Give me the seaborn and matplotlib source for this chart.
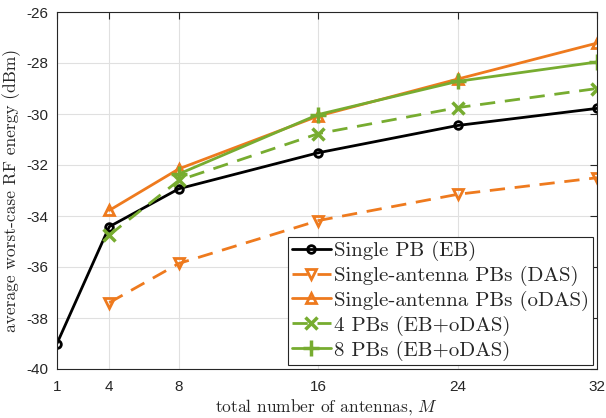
import matplotlib
matplotlib.use("Agg")
import matplotlib.pyplot as plt
import seaborn as sns
import numpy as np

# data
M_eb = [1, 4, 8, 16, 24, 32]
eb = [-39.0, -34.42, -32.93, -31.52, -30.45, -29.78]
M_das = [4, 8, 16, 24, 32]
das = [-37.4, -35.86, -34.18, -33.15, -32.5]
M_odas = [4, 8, 16, 24, 32]
odas = [-33.78, -32.15, -30.08, -28.63, -27.22]
M_4pb = [4, 8, 16, 24, 32]
pb4 = [-34.75, -32.6, -30.77, -29.75, -29.0]
M_8pb = [8, 16, 24, 32]
pb8 = [-32.35, -30.02, -28.72, -27.96]

labels = ["Single PB (EB)", "Single-antenna PBs (DAS)", "Single-antenna PBs (oDAS)",
          "4 PBs (EB+oDAS)", "8 PBs (EB+oDAS)"]
xticks = [1, 4, 8, 16, 24, 32]
yticks = [-40, -38, -36, -34, -32, -30, -28, -26]

sns.set_theme(style="whitegrid")
plt.rcParams['axes.unicode_minus'] = False
plt.rcParams['mathtext.fontset'] = 'cm'
plt.rcParams['font.family'] = ['Liberation Sans', 'DejaVu Sans']

orange = "#EE7A1E"
green = "#77AC30"

fig = plt.figure(figsize=(6.06, 4.18), dpi=100)
ax = fig.add_axes([57/606, 1 - 369/418, (597-57)/606, (369-12)/418])

lw = 2.0
common = dict(linewidth=lw, markersize=6.5, markeredgewidth=2.0)
sns.lineplot(x=M_eb, y=eb, ax=ax, color="black", marker="o", markerfacecolor="none",
             markeredgecolor="black", label=labels[0], linewidth=lw, markersize=5.5,
             markeredgewidth=2.0)
sns.lineplot(x=M_das, y=das, ax=ax, color=orange, marker="v", markerfacecolor="none",
             markeredgecolor=orange, dashes=(5.5, 3.5), label=labels[1], **common)
sns.lineplot(x=M_odas, y=odas, ax=ax, color=orange, marker="^", markerfacecolor="none",
             markeredgecolor=orange, label=labels[2], **common)
sns.lineplot(x=M_4pb, y=pb4, ax=ax, color=green, marker="x", markeredgecolor=green,
             dashes=(5.5, 3.5), label=labels[3], linewidth=lw, markersize=8.5, markeredgewidth=2.5)
sns.lineplot(x=M_8pb, y=pb8, ax=ax, color=green, marker="+", markeredgecolor=green,
             label=labels[4], linewidth=lw, markersize=11, markeredgewidth=2.5)

ax.set_xlim(1, 32)
ax.set_ylim(-40, -26)
ax.set_xticks(xticks)
ax.set_yticks(yticks)
ax.set_xticklabels([str(t) for t in xticks])
ax.set_yticklabels([str(t) for t in yticks])
ax.tick_params(direction='in', top=True, right=True, length=5, width=0.8,
               labelsize=11, colors='#262626', pad=6)
ax.tick_params(axis='x', pad=8)
for s in ax.spines.values():
    s.set_color('#262626')
    s.set_linewidth(0.8)
ax.set_facecolor('white')
ax.grid(True, color='#e0e0e0', linewidth=0.8)

ax.set_xlabel(r"total number of antennas, $M$", fontfamily='cmr10', fontsize=12.5,
              color='#262626', labelpad=2)
ax.set_ylabel("average worst-case RF energy (dBm)", fontfamily='cmr10', fontsize=12.5,
              color='#262626', labelpad=4)

leg = ax.legend(loc='lower right', prop={'family': 'cmr10', 'size': 15},
                frameon=True, fancybox=False, edgecolor='#262626', framealpha=1,
                handlelength=1.85, handletextpad=0.15, borderpad=0.2, labelspacing=0.23,
                borderaxespad=0.2)
leg.get_frame().set_linewidth(0.8)

fig.savefig("out.png", dpi=100)
